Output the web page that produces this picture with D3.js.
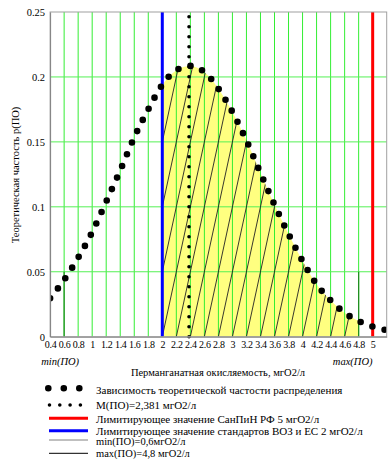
<!DOCTYPE html>
<html>
<head>
<meta charset="utf-8">
<script src="https://cdn.jsdelivr.net/npm/d3@7"></script>
<style>
  body { margin: 0; background: #fff; }
  svg { display: block; }
  text { font-family: "Liberation Serif", "Times New Roman", serif; fill: #000; }
</style>
</head>
<body>
<svg id="chart" width="388" height="463"></svg>
<script>
// Theoretical frequency of permanganate oxidizability values
const curveX = [0.4, 0.6, 0.8, 1.0, 1.2, 1.4, 1.6, 1.8, 2.0, 2.2, 2.4, 2.6, 2.8,
                3.0, 3.2, 3.4, 3.6, 3.8, 4.0, 4.2, 4.4, 4.6, 4.8, 5.0, 5.2];
const curveP = [0.0296, 0.0437, 0.0608, 0.0805, 0.104, 0.128, 0.1535, 0.175, 0.194,
                0.2052, 0.2085, 0.2038, 0.191, 0.173, 0.151, 0.126, 0.1016, 0.079,
                0.0583, 0.0403, 0.028, 0.0184, 0.012, 0.0078, 0.005];

const meanPO = 2.381;        // M(ПО)
const minPO = 0.6;           // min(ПО)
const maxPO = 4.8;           // max(ПО)
const limitWHO = 2;          // ВОЗ и ЕС
const limitSanPiN = 5;       // СанПиН РФ
const markerTop = 0.05;      // height of the min/max markers

const xTicks = [0.4, 0.6, 0.8, 1, 1.2, 1.4, 1.6, 1.8, 2, 2.2, 2.4, 2.6, 2.8,
                3, 3.2, 3.4, 3.6, 3.8, 4, 4.2, 4.4, 4.6, 4.8, 5];
const yTicks = [0, 0.05, 0.1, 0.15, 0.2, 0.25];
const xDomain = [0.4, 5.2];
const yDomain = [0, 0.25];

const legendLabels = [
  "Зависимость теоретической частости распределения",
  "M(ПО)=2,381 мгО2/л",
  "Лимитирующее значение  СанПиН РФ 5 мгО2/л",
  "Лимитирующее значение стандартов ВОЗ и ЕС 2 мгО2/л",
  "min(ПО)=0,6мгО2/л",
  "max(ПО)=4,8 мгО2/л"
];

const svg = d3.select("#chart");
const L = 50.1, R = 386.7, T = 12, B = 336.7;
const x = d3.scaleLinear().domain(xDomain).range([L, R]);
const y = d3.scaleLinear().domain(yDomain).range([B, T]);

const pts = curveX.map((v, i) => [v, curveP[i]]);
const defs = svg.append("defs");
defs.append("clipPath").attr("id", "plotClip")
  .append("rect").attr("x", L).attr("y", T).attr("width", R - L).attr("height", B - T);

// shaded region between the WHO limit and max(ПО)
const shaded = pts.filter(p => p[0] >= limitWHO - 1e-9 && p[0] <= maxPO + 1e-9);
const area = d3.area().x(d => x(d[0])).y0(y(0)).y1(d => y(d[1])).curve(d3.curveMonotoneX);
defs.append("clipPath").attr("id", "areaClip")
  .append("path").attr("d", area(shaded));

svg.append("path").attr("d", area(shaded)).attr("fill", "#ffff80");

// grid
const grid = svg.append("g");
grid.selectAll("line.v").data(xTicks.filter(v => v > xDomain[0])).enter().append("line")
  .attr("x1", d => x(d)).attr("x2", d => x(d)).attr("y1", y(0)).attr("y2", y(yDomain[1]))
  .attr("stroke", "#33ee33").attr("stroke-width", 1);
grid.selectAll("line.h").data(yTicks.filter(v => v > 0 && v < yDomain[1])).enter().append("line")
  .attr("x1", x(xDomain[0])).attr("x2", x(xDomain[1])).attr("y1", d => y(d)).attr("y2", d => y(d))
  .attr("stroke", "#55f055").attr("stroke-width", 1);

// hatching inside the shaded region: one diagonal per grid cell
const hatchStep = 0.2, hatchRise = 0.05;
const hatchStarts = d3.range(limitWHO - hatchStep * 5, maxPO + 1e-9, hatchStep);
svg.append("g").attr("clip-path", "url(#areaClip)")
  .selectAll("line").data(hatchStarts).enter().append("line")
  .attr("x1", d => x(d)).attr("y1", y(0))
  .attr("x2", d => x(d + hatchStep * 5)).attr("y2", y(hatchRise * 5))
  .attr("stroke", "#222").attr("stroke-width", 0.9);

// min / max markers
svg.selectAll("line.mm").data([minPO, maxPO]).enter().append("line")
  .attr("x1", d => x(d)).attr("x2", d => x(d)).attr("y1", y(0)).attr("y2", y(markerTop))
  .attr("stroke", "#1f8a1f").attr("stroke-width", 1.2);

// limits
svg.append("line").attr("x1", x(limitWHO)).attr("x2", x(limitWHO)).attr("y1", y(0)).attr("y2", y(yDomain[1]))
  .attr("stroke", "#0000ff").attr("stroke-width", 3);
svg.append("line").attr("x1", x(limitSanPiN)).attr("x2", x(limitSanPiN)).attr("y1", y(0)).attr("y2", y(yDomain[1]))
  .attr("stroke", "#ff0000").attr("stroke-width", 3);

// mean value (dotted)
svg.append("line").attr("x1", x(meanPO)).attr("x2", x(meanPO)).attr("y1", y(0)).attr("y2", y(yDomain[1]))
  .attr("stroke", "#000").attr("stroke-width", 3.6).attr("stroke-linecap", "round")
  .attr("stroke-dasharray", "0 10");

// theoretical frequency curve (heavy dots)
const line = d3.line().x(d => x(d[0])).y(d => y(d[1])).curve(d3.curveMonotoneX);
svg.append("path").attr("clip-path", "url(#plotClip)").attr("d", line(pts))
  .attr("fill", "none").attr("stroke", "#000").attr("stroke-width", 6.6)
  .attr("stroke-linecap", "round").attr("stroke-dasharray", "0 12.6");

// frame
svg.append("rect").attr("x", L).attr("y", T).attr("width", R - L).attr("height", B - T)
  .attr("fill", "none").attr("stroke", "#a0a0a0").attr("stroke-width", 1);

// axes
const yAxis = svg.append("g").attr("transform", `translate(${L},0)`)
  .call(d3.axisLeft(y).tickValues(yTicks).tickSize(0).tickPadding(5).tickFormat(d => String(d)));
yAxis.select(".domain").attr("stroke", "#808080");
yAxis.selectAll("text").style("font-family", "Liberation Serif").style("font-size", "10.5px");

const xAxis = svg.append("g").attr("transform", `translate(0,${B})`)
  .call(d3.axisBottom(x).tickValues(xTicks).tickSize(0).tickPadding(4).tickFormat(d => String(d)));
xAxis.select(".domain").attr("stroke", "#808080");
xAxis.selectAll("text").style("font-family", "Liberation Serif").style("font-size", "10px")
  .attr("letter-spacing", "-0.3");

// marker labels
svg.append("text").attr("x", x(minPO) - 4).attr("y", 365).attr("text-anchor", "middle")
  .style("font-size", "10.5px").style("font-style", "italic").text("min(ПО)");
svg.append("text").attr("x", x(maxPO) - 6).attr("y", 365).attr("text-anchor", "middle")
  .style("font-size", "10.5px").style("font-style", "italic").text("max(ПО)");

// axis titles
svg.append("text").attr("x", 218).attr("y", 376).attr("text-anchor", "middle")
  .style("font-size", "10.5px").text("Перманганатная окисляемость, мгО2/л");
svg.append("text").attr("transform", "translate(19,175) rotate(-90)").attr("text-anchor", "middle")
  .style("font-size", "10.5px").text("Теоретическая частость p(ПО)");

// legend
const lg = svg.append("g");
const rows = [393.5, 408.5, 423, 434.5, 445, 457];
const sizes = [11, 11, 11, 11, 10.5, 10.5];
const marks = [388.3, 405, 418.3, 430.7, 440, 453.3];
lg.append("line").attr("x1", 48.3).attr("x2", 80).attr("y1", marks[0]).attr("y2", marks[0])
  .attr("stroke", "#000").attr("stroke-width", 6.6).attr("stroke-linecap", "round").attr("stroke-dasharray", "0 15.5");
lg.append("line").attr("x1", 49.5).attr("x2", 81).attr("y1", marks[1]).attr("y2", marks[1])
  .attr("stroke", "#000").attr("stroke-width", 3.6).attr("stroke-linecap", "round").attr("stroke-dasharray", "0 10.3");
lg.append("line").attr("x1", 49).attr("x2", 88).attr("y1", marks[2]).attr("y2", marks[2])
  .attr("stroke", "#ff0000").attr("stroke-width", 3);
lg.append("line").attr("x1", 49).attr("x2", 88).attr("y1", marks[3]).attr("y2", marks[3])
  .attr("stroke", "#0000ff").attr("stroke-width", 3);
lg.append("line").attr("x1", 49).attr("x2", 88).attr("y1", marks[4]).attr("y2", marks[4])
  .attr("stroke", "#808080").attr("stroke-width", 1);
lg.append("line").attr("x1", 49).attr("x2", 88).attr("y1", marks[5]).attr("y2", marks[5])
  .attr("stroke", "#000").attr("stroke-width", 1);
lg.selectAll("text").data(legendLabels).enter().append("text")
  .attr("x", 96).attr("y", (d, i) => rows[i]).style("font-size", (d, i) => sizes[i] + "px").text(d => d);
</script>
</body>
</html>
